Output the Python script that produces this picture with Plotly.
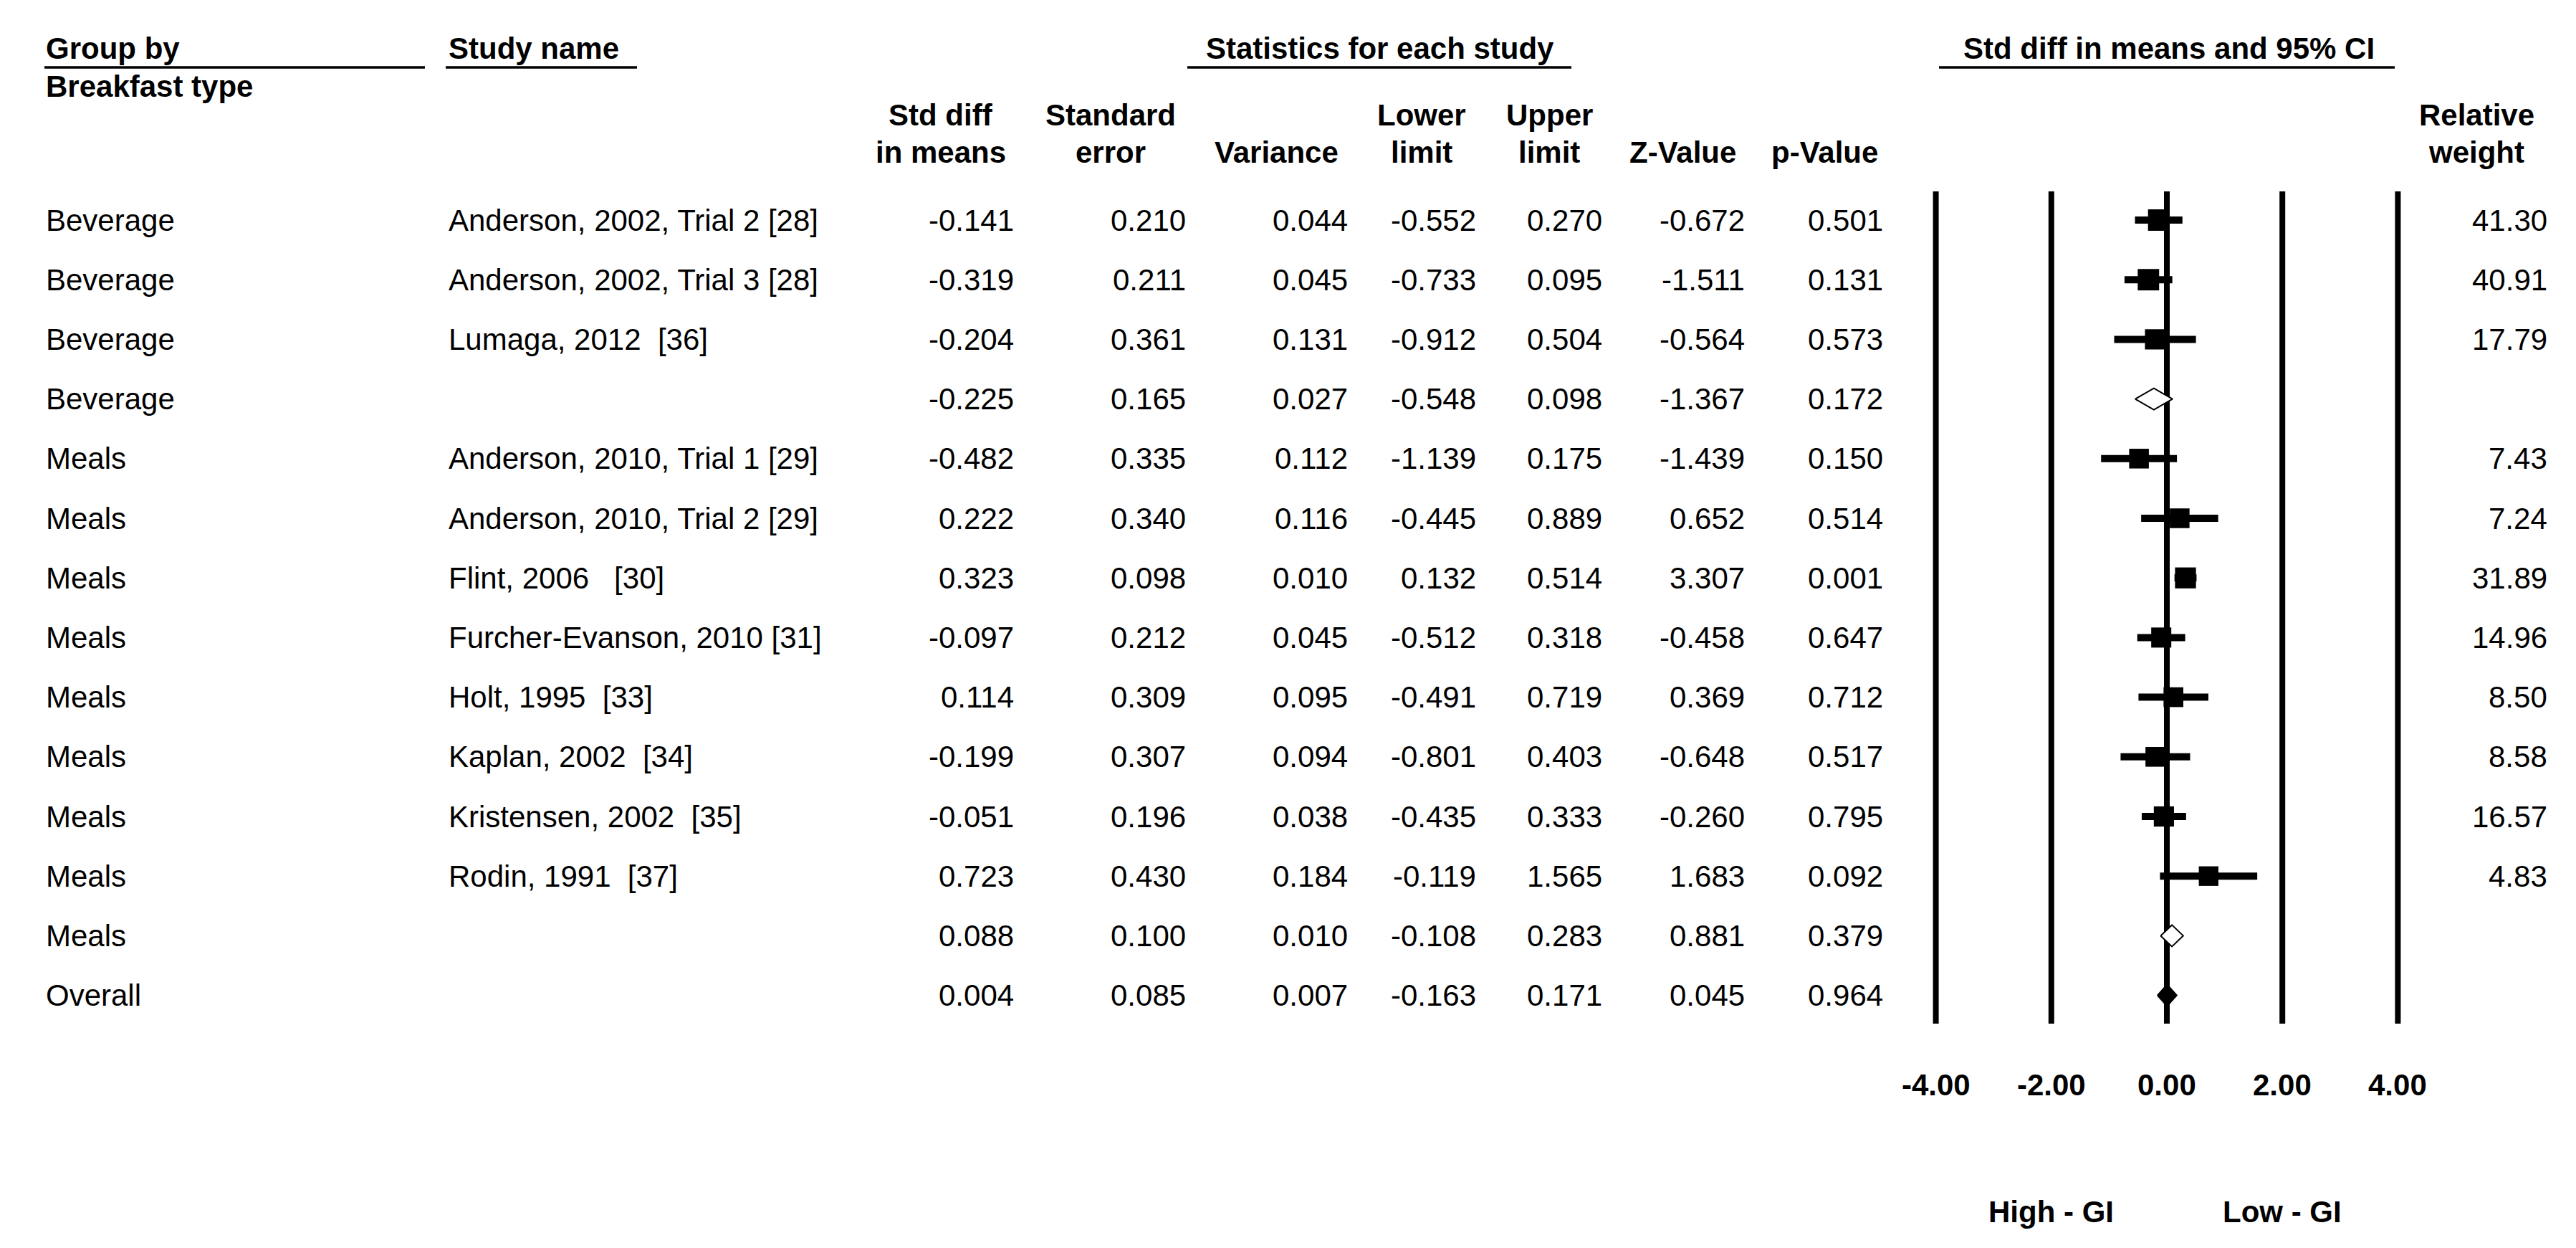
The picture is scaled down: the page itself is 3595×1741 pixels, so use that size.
import plotly.graph_objects as go

# ---- data ----
groups = ["Beverage", "Beverage", "Beverage", "Beverage",
          "Meals", "Meals", "Meals", "Meals", "Meals", "Meals", "Meals", "Meals", "Meals",
          "Overall"]
studies = ["Anderson, 2002, Trial 2 [28]", "Anderson, 2002, Trial 3 [28]", "Lumaga, 2012  [36]", "",
           "Anderson, 2010, Trial 1 [29]", "Anderson, 2010, Trial 2 [29]", "Flint, 2006   [30]",
           "Furcher-Evanson, 2010 [31]", "Holt, 1995  [33]", "Kaplan, 2002  [34]",
           "Kristensen, 2002  [35]", "Rodin, 1991  [37]", "", ""]
std_diff = [-0.141, -0.319, -0.204, -0.225, -0.482, 0.222, 0.323, -0.097, 0.114, -0.199, -0.051, 0.723, 0.088, 0.004]
std_err = [0.210, 0.211, 0.361, 0.165, 0.335, 0.340, 0.098, 0.212, 0.309, 0.307, 0.196, 0.430, 0.100, 0.085]
variance = [0.044, 0.045, 0.131, 0.027, 0.112, 0.116, 0.010, 0.045, 0.095, 0.094, 0.038, 0.184, 0.010, 0.007]
lower = [-0.552, -0.733, -0.912, -0.548, -1.139, -0.445, 0.132, -0.512, -0.491, -0.801, -0.435, -0.119, -0.108, -0.163]
upper = [0.270, 0.095, 0.504, 0.098, 0.175, 0.889, 0.514, 0.318, 0.719, 0.403, 0.333, 1.565, 0.283, 0.171]
z_value = [-0.672, -1.511, -0.564, -1.367, -1.439, 0.652, 3.307, -0.458, 0.369, -0.648, -0.260, 1.683, 0.881, 0.045]
p_value = [0.501, 0.131, 0.573, 0.172, 0.150, 0.514, 0.001, 0.647, 0.712, 0.517, 0.795, 0.092, 0.379, 0.964]
weights = [41.30, 40.91, 17.79, None, 7.43, 7.24, 31.89, 14.96, 8.50, 8.58, 16.57, 4.83, None, None]

ticks = [-4, -2, 0, 2, 4]
tick_labels = ["-4.00", "-2.00", "0.00", "2.00", "4.00"]
favour_labels = ["High - GI", "Low - GI"]
favour_at = [-2, 2]

W, H = 3595, 1741               # page size
OFF = 8                         # default body margin of the html page
FW, FH = W - 2 * OFF, H - 2 * OFF
ROW0, ROWH = 307, 83.2          # page y of first row, row pitch
ZERO, UNIT = 3024, 80.6         # page x of 0.00, pixels per unit


def row(py):
    # page y pixel -> row coordinate
    return 1 + (py - ROW0) / ROWH


def px(x):
    # page x pixel -> paper fraction
    return (x - OFF) / FW


FONT = dict(family="Liberation Sans, Arial, sans-serif", size=42, color="black")

rows = list(range(1, len(groups) + 1))
fig = go.Figure()

# vertical reference lines
vx, vy = [], []
for t in ticks:
    vx += [t, t, None]
    vy += [row(267), row(1428), None]
fig.add_trace(go.Scatter(x=vx, y=vy, mode="lines", line=dict(color="black", width=8),
                         hoverinfo="skip"))

# confidence intervals of single studies
cx, cy = [], []
sx, sy, ss = [], [], []
for r, s, m, lo, hi, w in zip(rows, studies, std_diff, lower, upper, weights):
    if s:
        cx += [lo, hi, None]
        cy += [r, r, None]
        sx.append(m)
        sy.append(r)
        ss.append(27 + 0.07 * w)
fig.add_trace(go.Scatter(x=cx, y=cy, mode="lines", line=dict(color="black", width=10),
                         hoverinfo="skip"))
fig.add_trace(go.Scatter(x=sx, y=sy, mode="markers",
                         marker=dict(symbol="square", size=ss, color="black", opacity=1,
                                     line=dict(width=0))))

# summary diamonds
half = 15 / ROWH
for r, s, g, m, lo, hi in zip(rows, studies, groups, std_diff, lower, upper):
    if s:
        continue
    fill = "black" if g == "Overall" else "white"
    fig.add_trace(go.Scatter(x=[lo, m, hi, m, lo], y=[r, r - half, r, r + half, r],
                             mode="lines", fill="toself", fillcolor=fill,
                             line=dict(color="black", width=2), hoverinfo="skip"))

ann = []


def txt(text, x, y, anchor="left", bold=False, xref="paper"):
    ann.append(dict(text=f"<b>{text}</b>" if bold else text, x=x, xref=xref, y=y, yref="y",
                    xanchor=anchor, yanchor="middle", showarrow=False, font=FONT))


# top headers
txt("Group by", px(62), row(67), bold=True)
txt("Breakfast type", px(62), row(120), bold=True)
txt("Study name", px(624), row(67), bold=True)
txt("Statistics for each study", px(1926), row(67), "center", bold=True)
txt("Std diff in means and 95% CI", px(3027), row(67), "center", bold=True)

col_heads = [("Std diff", "in means", 1313), ("Standard", "error", 1550), ("", "Variance", 1781),
             ("Lower", "limit", 1984), ("Upper", "limit", 2162), ("", "Z-Value", 2348),
             ("", "p-Value", 2546), ("Relative", "weight", 3456)]
for l1, l2, cxp in col_heads:
    if l1:
        txt(l1, px(cxp), row(160), "center", bold=True)
    txt(l2, px(cxp), row(212), "center", bold=True)

# table body
num_cols = [(std_diff, 1417), (std_err, 1657), (variance, 1883), (lower, 2062),
            (upper, 2238), (z_value, 2437), (p_value, 2630)]
for i, r in enumerate(rows):
    txt(groups[i], px(62), r)
    if studies[i]:
        txt(studies[i], px(624), r)
    for vals, right in num_cols:
        txt(f"{vals[i]:.3f}", px(right), r, "right")
    if weights[i] is not None:
        txt(f"{weights[i]:.2f}", px(3557), r, "right")

# axis labels under the forest plot
for t, lab in zip(ticks, tick_labels):
    txt(lab, t, row(1513), "center", bold=True, xref="x")
for t, lab in zip(favour_at, favour_labels):
    txt(lab, t, row(1690), "center", bold=True, xref="x")

# header underlines
shapes = []
uy = 1 - (94 - OFF) / FH
for x0, x1 in [(62, 593), (622, 889), (1657, 2193), (2706, 3342)]:
    shapes.append(dict(type="line", xref="paper", yref="paper", x0=px(x0), x1=px(x1),
                       y0=uy, y1=uy, line=dict(color="black", width=3.5)))

fig.update_layout(
    width=FW, height=FH, margin=dict(l=0, r=0, t=0, b=0),
    paper_bgcolor="white", plot_bgcolor="white", showlegend=False,
    xaxis=dict(range=[(OFF - ZERO) / UNIT, (W - OFF - ZERO) / UNIT], visible=False, domain=[0, 1]),
    yaxis=dict(range=[row(H - OFF), row(OFF)], visible=False, domain=[0, 1]),
    annotations=ann, shapes=shapes, font=FONT,
)

fig.write_html("out.html")
